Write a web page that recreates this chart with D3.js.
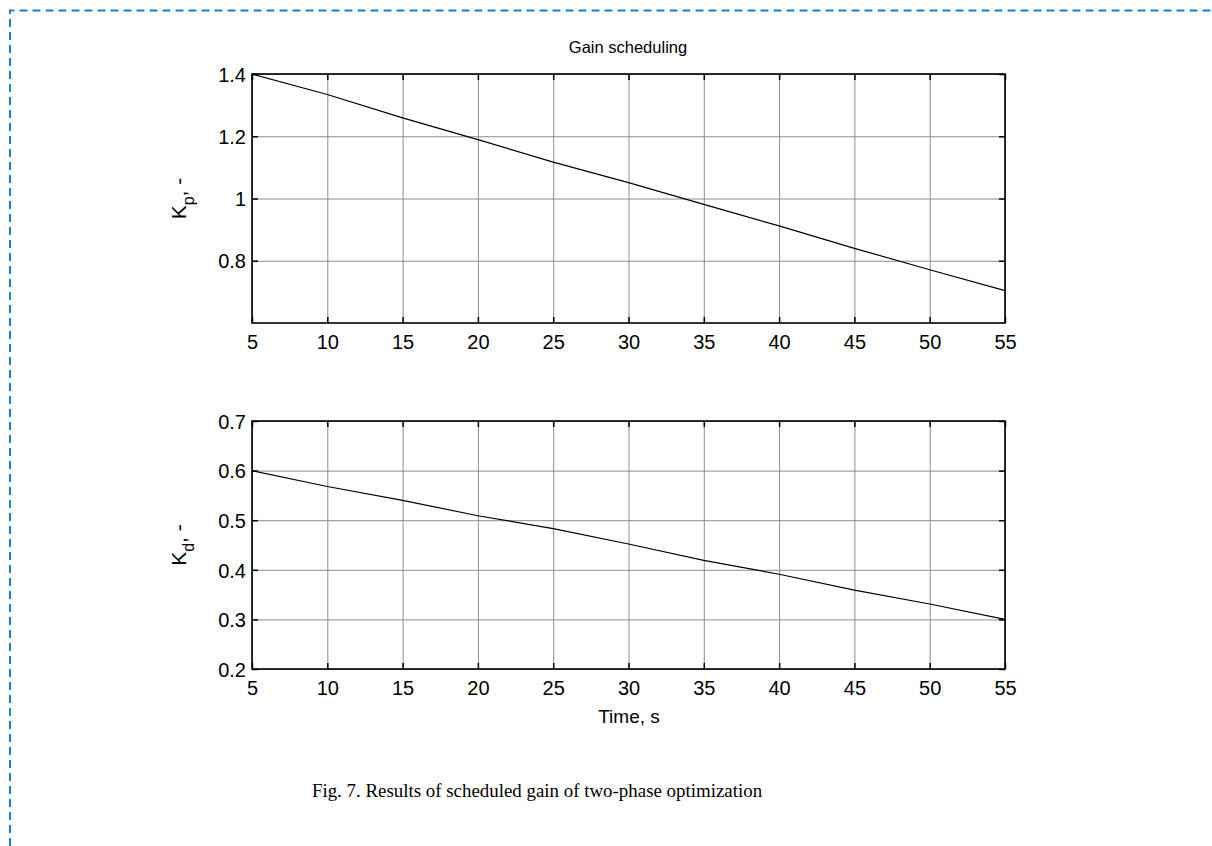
<!DOCTYPE html>
<html>
<head>
<meta charset="utf-8">
<script src="https://cdn.jsdelivr.net/npm/d3@7"></script>
<style>
  body { margin: 0; background: #fff; }
  svg { display: block; }
</style>
</head>
<body>
<div class="chartContainer"></div>
<script>
// Data
var time = [5, 10, 15, 20, 25, 30, 35, 40, 45, 50, 55];
var kpValues = [1.40, 1.334, 1.259, 1.189, 1.117, 1.051, 0.981, 0.912, 0.840, 0.771, 0.704];
var kdValues = [0.60, 0.568, 0.540, 0.509, 0.483, 0.452, 0.419, 0.391, 0.359, 0.331, 0.300];

var xTicks = [5, 10, 15, 20, 25, 30, 35, 40, 45, 50, 55];
var kpTicks = [0.8, 1, 1.2, 1.4];
var kdTicks = [0.2, 0.3, 0.4, 0.5, 0.6, 0.7];
var xDomain = [5, 55];
var kpDomain = [0.6, 1.4];
var kdDomain = [0.2, 0.7];

//Colors
var gridColor = "#8c8c8c";
var lineColor = "#000";
var borderColor = "#1a7fd0";

var width = 1212, height = 846;
var svg = d3.select(".chartContainer").append("svg")
    .attr("width", width)
    .attr("height", height);

// dashed frame (top and left only)
svg.append("path")
    .attr("d", "M10,846 L10,10.5 L1212,10.5")
    .attr("fill", "none")
    .attr("stroke", borderColor)
    .attr("stroke-width", 2)
    .attr("stroke-dasharray", "8,5");

var plotLeft = 252, plotRight = 1005;
var x = d3.scaleLinear().domain(xDomain).range([plotLeft, plotRight]);

var drawPanel = function (top, bottom, domain, ticks, values, labelSub) {
    var y = d3.scaleLinear().domain(domain).range([bottom, top]);
    var w = plotRight - plotLeft, h = bottom - top;
    var g = svg.append("g");

    // grid
    g.append("g")
        .attr("transform", "translate(0," + bottom + ")")
        .call(d3.axisBottom(x).tickValues(xTicks).tickSize(-h).tickFormat(""))
        .call((s) => s.select(".domain").remove())
        .selectAll("line").attr("stroke", gridColor).attr("stroke-width", 1);
    g.append("g")
        .attr("transform", "translate(" + plotLeft + ",0)")
        .call(d3.axisLeft(y).tickValues(ticks).tickSize(-w).tickFormat(""))
        .call((s) => s.select(".domain").remove())
        .selectAll("line").attr("stroke", gridColor).attr("stroke-width", 1);

    // data line
    var line = d3.line()
        .x((d, i) => x(time[i]))
        .y((d) => y(d));
    g.append("path")
        .datum(values)
        .attr("d", line)
        .attr("fill", "none")
        .attr("stroke", lineColor)
        .attr("stroke-width", 1.2);

    // inward ticks on all four sides
    var tickLen = 6;
    var bottomAxis = g.append("g")
        .attr("transform", "translate(0," + bottom + ")")
        .call(d3.axisBottom(x).tickValues(xTicks).tickSize(-tickLen).tickPadding(10).tickFormat((d) => d));
    g.append("g")
        .attr("transform", "translate(0," + top + ")")
        .call(d3.axisTop(x).tickValues(xTicks).tickSize(-tickLen).tickFormat(""));
    var leftAxis = g.append("g")
        .attr("transform", "translate(" + plotLeft + ",0)")
        .call(d3.axisLeft(y).tickValues(ticks).tickSize(-tickLen).tickPadding(6).tickFormat((d) => d));
    g.append("g")
        .attr("transform", "translate(" + plotRight + ",0)")
        .call(d3.axisRight(y).tickValues(ticks).tickSize(-tickLen).tickFormat(""));

    g.selectAll(".domain").remove();
    g.selectAll(".tick line").filter(function () { return this.getAttribute("stroke") === "currentColor"; })
        .attr("stroke", "#000").attr("stroke-width", 1.5);
    g.selectAll(".tick text")
        .attr("font-family", "'Liberation Sans', Arial, sans-serif")
        .attr("font-size", "20px")
        .attr("fill", "#000");
    bottomAxis.selectAll(".tick text").attr("dy", "0.78em");
    leftAxis.selectAll(".tick text").attr("dy", "0.36em");

    // box
    g.append("rect")
        .attr("x", plotLeft).attr("y", top)
        .attr("width", w).attr("height", h)
        .attr("fill", "none")
        .attr("stroke", "#000")
        .attr("stroke-width", 1.6);

    // y label with subscript
    var lab = g.append("text")
        .attr("transform", "translate(186," + ((top + bottom) / 2) + ") rotate(-90)")
        .attr("text-anchor", "middle")
        .attr("font-family", "'Liberation Sans', Arial, sans-serif")
        .attr("font-size", "21px")
        .attr("fill", "#000");
    lab.append("tspan").text("K");
    lab.append("tspan").attr("dy", 8).attr("font-size", "16px").text(labelSub);
    lab.append("tspan").attr("dy", -8).text(", -");
};

drawPanel(74, 323, kpDomain, kpTicks, kpValues, "p");
drawPanel(421, 669, kdDomain, kdTicks, kdValues, "d");

// title and axis label
svg.append("text")
    .attr("x", 628).attr("y", 53)
    .attr("text-anchor", "middle")
    .attr("font-family", "'Liberation Sans', Arial, sans-serif")
    .attr("font-size", "16.5px")
    .text("Gain scheduling");

svg.append("text")
    .attr("x", 629).attr("y", 723)
    .attr("text-anchor", "middle")
    .attr("font-family", "'Liberation Sans', Arial, sans-serif")
    .attr("font-size", "19px")
    .text("Time, s");

// caption
svg.append("text")
    .attr("x", 537).attr("y", 797)
    .attr("text-anchor", "middle")
    .attr("font-family", "'Liberation Serif', 'Times New Roman', serif")
    .attr("font-size", "18.9px")
    .text("Fig. 7. Results of scheduled gain of two-phase optimization");
</script>
</body>
</html>
